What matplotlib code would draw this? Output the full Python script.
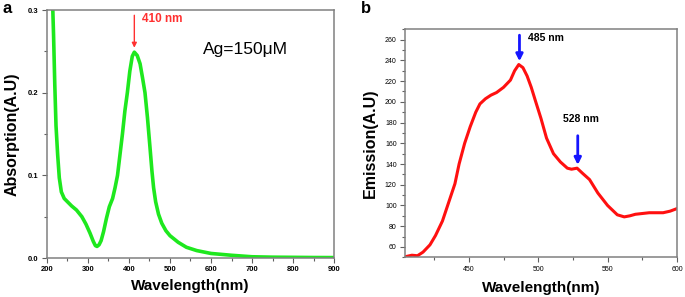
import numpy as np
import matplotlib
matplotlib.use("Agg")
import matplotlib.pyplot as plt
from matplotlib.ticker import MultipleLocator

plt.rcParams['font.family'] = ['Liberation Sans', 'DejaVu Sans']

# panel a: UV-vis absorption
wl_a = [213, 216, 219, 222, 226, 230, 235, 242, 250, 260, 272, 285, 295, 305,
        313, 318, 322, 327, 332, 338, 345, 352, 360, 366, 372, 378, 384, 390,
        396, 402, 408, 413, 420, 427, 433, 439, 445, 451, 456, 460, 465, 472,
        480, 490, 500, 520, 540, 565, 600, 650, 700, 750, 800, 850, 900]
abs_a = [0.32, 0.27, 0.21, 0.16, 0.125, 0.097, 0.080, 0.072, 0.068, 0.063,
         0.058, 0.050, 0.041, 0.030, 0.020, 0.015, 0.014, 0.016, 0.021, 0.032,
         0.048, 0.062, 0.072, 0.085, 0.100, 0.125, 0.150, 0.178, 0.200, 0.226,
         0.244, 0.249, 0.245, 0.235, 0.218, 0.200, 0.170, 0.135, 0.105, 0.085,
         0.068, 0.053, 0.042, 0.033, 0.027, 0.019, 0.013, 0.009, 0.0055,
         0.0033, 0.0015, 0.001, 0.0008, 0.0006, 0.0005]

# panel b: emission spectrum
wl_b = [404, 409, 413, 417, 422, 426, 431, 436, 440, 443, 447, 451, 455, 458,
        462, 466, 470, 475, 480, 483, 486, 489, 492, 495, 498, 502, 506, 511,
        516, 521, 524, 528, 532, 537, 543, 550, 557, 562, 566, 570, 580, 590,
        595, 600]
em_b = [50.5, 52, 51.5, 55, 62, 71, 85, 105, 121, 140, 160, 176, 190, 198,
        203, 206.5, 209, 214, 221, 230, 236, 233, 225, 214, 201, 184, 165, 150,
        142, 136, 135, 136, 131, 125, 112, 100, 91, 89, 90, 91.5, 93, 93, 94.5,
        97]

fig = plt.figure(figsize=(6.85, 2.97), dpi=100)
ax1 = fig.add_axes([0.0686, 0.1313, 0.419, 0.835])
ax2 = fig.add_axes([0.5912, 0.1337, 0.3971, 0.7676])

for ax in (ax1, ax2):
    for s in ax.spines.values():
        s.set_color('#808080')
        s.set_linewidth(1.1)
    ax.tick_params(which='both', direction='out', colors='#606060',
                   labelcolor='black', labelsize=5.5, top=False, right=False)
    ax.tick_params(which='major', length=3.5, width=0.8, pad=2.5)
    ax.tick_params(which='minor', length=2, width=0.8)

# a
ax1.plot(wl_a, abs_a, color='#1ee81e', lw=2.6, solid_capstyle='round')
ax1.set_xlim(200, 900)
ax1.set_ylim(0, 0.3)
ax1.xaxis.set_major_locator(MultipleLocator(100))
ax1.xaxis.set_minor_locator(MultipleLocator(50))
ax1.yaxis.set_major_locator(MultipleLocator(0.1))
ax1.yaxis.set_minor_locator(MultipleLocator(0.05))
ax1.yaxis.set_major_formatter(plt.FormatStrFormatter('%.1f'))
for lab in ax1.get_xticklabels() + ax1.get_yticklabels():
    lab.set_fontweight('bold')
ax1.set_xlabel('Wavelength(nm)', fontsize=11, fontweight='bold', labelpad=4)
ax1.set_ylabel('Absorption(A.U)', fontsize=11.5, fontweight='bold', labelpad=6)
ax1.annotate('', xy=(413, 0.251), xytext=(413, 0.297),
             arrowprops=dict(arrowstyle='-|>', color='#ff3030', lw=1,
                             mutation_scale=7))
ax1.text(432, 0.289, '410 nm', color='#ff3030', fontsize=8.5,
         fontweight='bold', va='center')
ax1.text(580, 0.252, 'Ag=150\u03bcM', fontsize=12.5, va='center')

# b
ax2.plot(wl_b, em_b, color='#ff1010', lw=2.2, solid_capstyle='round')
ax2.set_xlim(404, 600)
ax2.set_ylim(50, 270)
ax2.xaxis.set_minor_locator(MultipleLocator(25))
ax2.yaxis.set_minor_locator(MultipleLocator(10))
ax2.set_yticks(np.arange(60, 261, 20))
ax2.set_xticks([450, 500, 550, 600])
ax2.tick_params(labelsize=5)
ax2.set_xlabel('Wavelength(nm)', fontsize=11, fontweight='bold', labelpad=6)
ax2.set_ylabel('Emission(A.U)', fontsize=11.5, fontweight='bold', labelpad=5)
ax2.annotate('', xy=(486.5, 236.5), xytext=(486.5, 267),
             arrowprops=dict(arrowstyle='-|>', color='#1515ff', lw=2,
                             mutation_scale=10))
ax2.text(493, 262, '485 nm', fontsize=7.5, fontweight='bold', va='center')
ax2.annotate('', xy=(528.5, 136.5), xytext=(528.5, 170),
             arrowprops=dict(arrowstyle='-|>', color='#1515ff', lw=2,
                             mutation_scale=10))
ax2.text(531, 183, '528 nm', fontsize=7.5, fontweight='bold', va='center',
         ha='center')

fig.text(0.004, 0.97, 'a', fontsize=12, fontweight='bold', va='center')
fig.text(0.527, 0.972, 'b', fontsize=12, fontweight='bold', va='center')

fig.savefig('out.png', dpi=100)
